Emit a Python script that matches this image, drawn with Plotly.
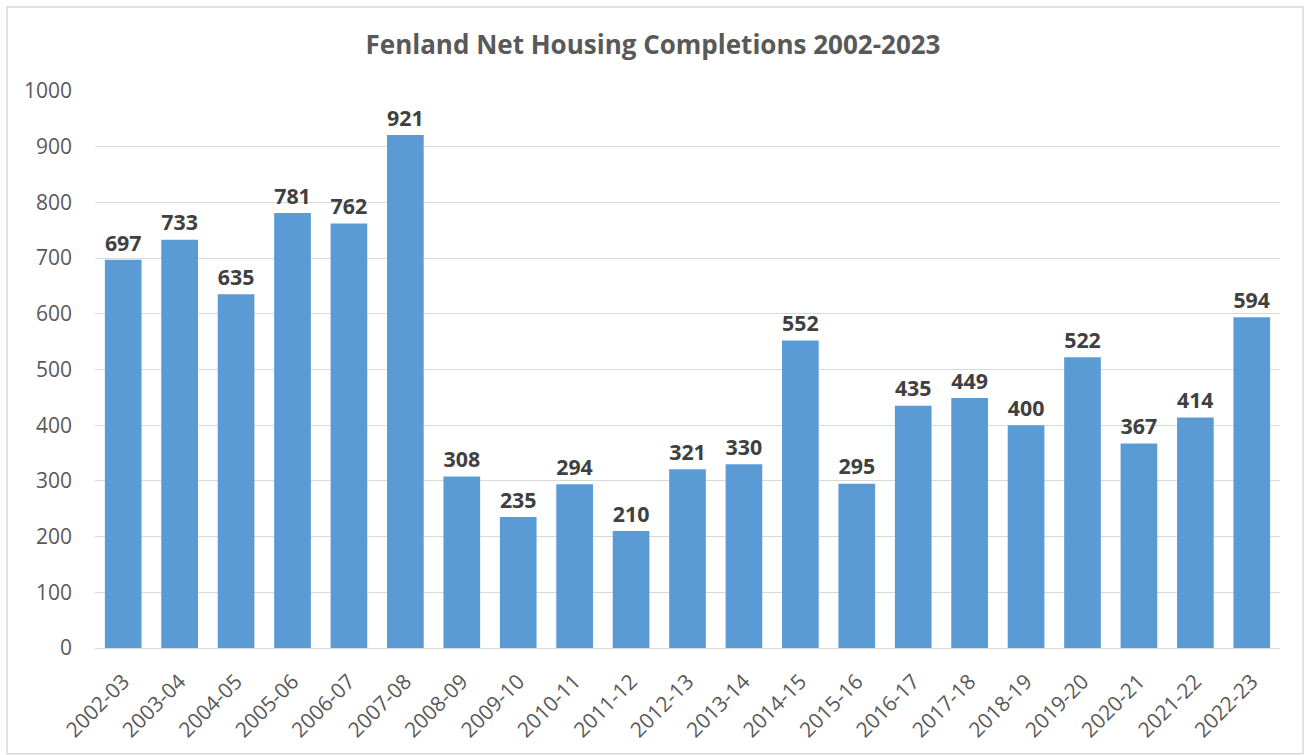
import plotly.graph_objects as go

years = ["2002-03", "2003-04", "2004-05", "2005-06", "2006-07", "2007-08", "2008-09",
         "2009-10", "2010-11", "2011-12", "2012-13", "2013-14", "2014-15", "2015-16",
         "2016-17", "2017-18", "2018-19", "2019-20", "2020-21", "2021-22", "2022-23"]
completions = [697, 733, 635, 781, 762, 921, 308, 235, 294, 210, 321, 330, 552, 295,
               435, 449, 400, 522, 367, 414, 594]

FONT = "Open Sans, Liberation Sans, sans-serif"

fig = go.Figure(go.Bar(
    x=years, y=completions,
    marker=dict(color="#5B9BD5", line=dict(width=0)),
    text=completions, textposition="outside", cliponaxis=False,
    textfont=dict(family=FONT, size=24, color="#404040", weight="bold"),
))

fig.update_layout(
    width=1306, height=755,
    margin=dict(l=95, r=26, t=91, b=107, autoexpand=False),
    paper_bgcolor="white", plot_bgcolor="white",
    bargap=0.35,
    showlegend=False,
    title=dict(text="<b>Fenland Net Housing Completions 2002-2023</b>",
               x=0.5, xanchor="center", y=0.94, yanchor="middle",
               font=dict(family=FONT, size=26, color="#595959")),
    xaxis=dict(type="category", tickangle=-45, automargin=False,
               tickfont=dict(family=FONT, size=21, color="#595959"),
               showline=True, linecolor="#d9d9d9", linewidth=1, ticks="",
               ticklabelstandoff=12),
    yaxis=dict(range=[0, 1000], dtick=100, automargin=False,
               tickfont=dict(family=FONT, size=21, color="#595959"),
               gridcolor="#d9d9d9", gridwidth=1, zeroline=False, ticks="",
               ticklabelstandoff=22),
    font=dict(family=FONT),
)

fig.add_shape(type="rect", xref="paper", yref="paper",
              x0=-0.0743, x1=1.0194, y0=-0.19, y1=1.1508,
              line=dict(color="#d9d9d9", width=1.5), layer="below")

fig.write_html("out.html", config={"displayModeBar": False},
               post_script="document.body.style.margin='0';")
